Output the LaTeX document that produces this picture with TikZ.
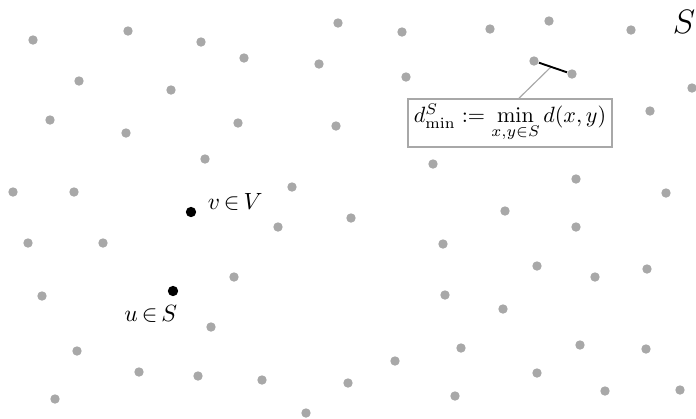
\documentclass[tikz,border=0pt]{standalone}
\usetikzlibrary{calc}
\definecolor{dotgray}{RGB}{168,168,168}
\begin{document}
\begin{tikzpicture}[x=0.4255pt,y=-0.4255pt,
  gdot/.style={circle,fill=dotgray,inner sep=0pt,minimum size=4pt},
  bdot/.style={circle,fill=black,inner sep=0pt,minimum size=4.4pt},
  lbl/.style={inner sep=1pt},
  linkline/.style={draw=dotgray,line width=0.5pt},
  minseg/.style={draw=black,line width=0.8pt},
  formulabox/.style={draw=dotgray,line width=0.7pt,fill=white,minimum width=86.8pt,minimum height=20.4pt,inner sep=1pt}]
\useasboundingbox (0,0) rectangle (696,418);
\foreach [count=\i] \x/\y in {33/40,128/31,201/42,338/23,402/32,490/29,549/21,631/30,
  244/58,319/64,79/81,406/77,171/90,692/88,
  50/120,126/133,238/123,336/126,650/111,
  205/159,433/164,576/179,
  13/192,74/192,292/187,666/193,505/211,
  351/218,278/227,576/227,
  28/243,103/243,443/244,
  537/266,595/277,647/269,234/277,
  42/296,445/295,503/309,211/327,
  461/348,580/345,646/349,77/351,
  395/361,537/373,139/372,198/376,262/380,348/383,
  605/391,680/390,455/396,55/399,306/413}
  \node[gdot] (g\i) at (\x,\y) {};
\node[gdot] (a) at (534,61) {};
\node[gdot] (b) at (572,74) {};
\node[bdot] (v) at (191,212) {};
\node[bdot] (u) at (173,291) {};
\node[lbl,anchor=west] (vl) at (205,202) {$v\,{\in}\,V$};
\node[lbl,anchor=east] (ul) at (180,314) {$u\,{\in}\,S$};
\node[lbl] (S) at (684,22) {\Large $S$};
\node[formulabox] (box) at (510,123) {\scalebox{0.94}{$d^S_{\min} := \min\limits_{x,y\in S} d(x,y)$}};
\coordinate (m) at ($(a)!0.45!(b)$);
\draw[linkline] ($(box.north)+(9,0)$) -- (m);
\draw[minseg] (a) -- (b);
\end{tikzpicture}
\end{document}
